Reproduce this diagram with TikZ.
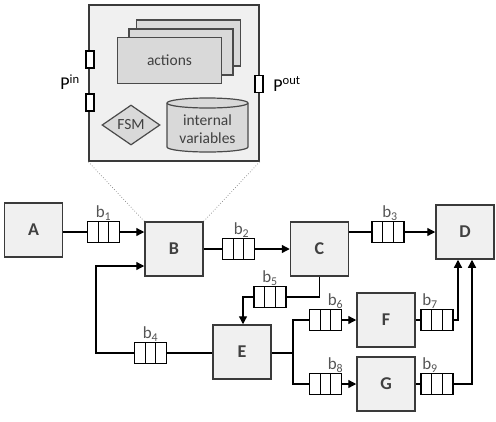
\documentclass[tikz,border=0pt]{standalone}
\usepackage{fontspec}
\setmainfont{Carlito}
\usetikzlibrary{shapes.geometric,calc,arrows.meta}
\definecolor{boxfill}{HTML}{F0F0F0}
\definecolor{innerfill}{HTML}{D9D9D9}
\definecolor{edge}{HTML}{3A3A3A}
\definecolor{inneredge}{HTML}{4A4A4A}
\definecolor{txt}{HTML}{404040}
\definecolor{lbltxt}{HTML}{555555}
\begin{document}
\begin{tikzpicture}[x=1pt,y=-1pt,
  blk/.style={draw=edge, fill=boxfill, line width=1.5pt, minimum width=58pt, minimum height=54pt, inner sep=0pt,
    font=\fontsize{18}{20}\selectfont\bfseries, text=txt},
  queue/.style={draw=black, fill=white, line width=1.3pt, minimum width=32pt, minimum height=21pt, inner sep=0pt,
    path picture={\foreach \i in {1,2}{\draw[line width=1.3pt] ($(path picture bounding box.north west)!\i/3!(path picture bounding box.north east)$) -- ($(path picture bounding box.south west)!\i/3!(path picture bounding box.south east)$);}}},
  lbl/.style={font=\fontsize{17}{19}\selectfont, text=lbltxt, inner sep=0.5pt},
  conn/.style={line width=1.3pt, draw=black},
  arr/.style={conn, -{Triangle[length=8pt,width=8pt]}},
  port/.style={draw=black, fill=white, line width=1.1pt, minimum width=8pt, minimum height=17pt, inner sep=0pt},
  inner/.style={draw=inneredge, fill=innerfill, line width=1.2pt, inner sep=0pt, text=txt, font=\fontsize{15.5}{17}\selectfont},
  zoomline/.style={draw=gray, dotted, line width=0.7pt}
]
\useasboundingbox (0,0) rectangle (496,421);

% detailed view
\node[draw=edge, fill=boxfill, line width=1.5pt, minimum width=170pt, minimum height=156pt, inner sep=0pt] (view) at (174,83) {};
\node[inner, minimum width=104pt, minimum height=46pt] (act3) at (188.5,43) {};
\node[inner, minimum width=104pt, minimum height=46pt] (act2) at (181,52) {};
\node[inner, minimum width=104pt, minimum height=46pt] (act1) at (169.5,60.5) {actions};
\node[inner, diamond, minimum width=58pt, minimum height=40pt, aspect=1.45] (fsm) at (131,125) {FSM};
\filldraw[draw=inneredge, fill=innerfill, line width=1.2pt] (167,103) -- (167,147) arc (180:0:40.5 and 5) -- (248,103) arc (0:-180:40.5 and 5) -- cycle;
\draw[draw=inneredge, line width=1.2pt] (167,103) arc (180:0:40.5 and 5);
\node[text=txt, font=\fontsize{15.5}{18}\selectfont, align=center] (vars) at (207.5,129) {internal\\variables};
\node[port] (pin1) at (90,59.5) {};
\node[port] (pin2) at (90,102.5) {};
\node[port] (pout) at (259,84) {};
\node[font=\fontsize{18}{20}\selectfont, text=black] (pinl) at (70,82) {P\textsuperscript{in}};
\node[font=\fontsize{18}{20}\selectfont, text=black] (poutl) at (287,84) {P\textsuperscript{out}};

% main blocks
\node[blk] (A) at (33.5,230) {A};
\node[blk] (B) at (174,249) {B};
\node[blk] (C) at (319.5,249) {C};
\node[blk] (D) at (465,232) {D};
\node[blk] (E) at (242,352) {E};
\node[blk] (F) at (386,320) {F};
\node[blk] (G) at (386,384) {G};

\draw[zoomline] (view.south west) -- (B.north west);
\draw[zoomline] (view.south east) -- (B.north east);

% queues
\node[queue, label={[lbl]above:b\textsubscript{1}}] (b1) at (103.5,232) {};
\node[queue, label={[lbl,xshift=3pt]above:b\textsubscript{2}}] (b2) at (238.5,249) {};
\node[queue, label={[lbl,xshift=2pt]above:b\textsubscript{3}}] (b3) at (388,232) {};
\node[queue, label={[lbl]above:b\textsubscript{4}}] (b4) at (150.5,353) {};
\node[queue, label={[lbl]above:b\textsubscript{5}}] (b5) at (270,297) {};
\node[queue, label={[lbl,xshift=10pt]above:b\textsubscript{6}}] (b6) at (325.5,320) {};
\node[queue, label={[lbl,xshift=-7pt]above:b\textsubscript{7}}] (b7) at (437,320) {};
\node[queue, label={[lbl,xshift=10pt]above:b\textsubscript{8}}] (b8) at (325.5,384) {};
\node[queue, label={[lbl,xshift=-7pt]above:b\textsubscript{9}}] (b9) at (437,384) {};

\coordinate (loopL) at (96,353);
\coordinate (loopT) at (96,266);
\coordinate (c5) at (243,297);
\coordinate (eb) at (293,353);
\coordinate (f7) at (458,320);
\coordinate (g9) at (472,384);

% connectors
\draw[conn] (A.east |- b1) -- (b1.west);
\draw[arr] (b1.east) -- (B.west |- b1);
\draw[conn] (B.east) -- (b2.west);
\draw[arr] (b2.east) -- (C.west);
\draw[conn] (C.east |- b3) -- (b3.west);
\draw[arr] (b3.east) -- (D.west |- b3);
\draw[conn] (C.south) |- (b5.east);
\draw[arr] (b5.west) -- (c5) -- (c5 |- E.north);
\draw[conn] (E.west |- b4) -- (b4.east);
\draw[arr] (b4.west) -- (loopL) -- (loopT) -- (B.west |- loopT);
\draw[conn] (E.east |- eb) -- (eb) |- (b6.west);
\draw[conn] (eb) |- (b8.west);
\draw[arr] (b6.east) -- (F.west);
\draw[arr] (b8.east) -- (G.west |- b8);
\draw[conn] (F.east) -- (b7.west);
\draw[conn] (G.east |- b9) -- (b9.west);
\draw[arr] (b7.east) -- (f7) -- (f7 |- D.south);
\draw[arr] (b9.east) -- (g9) -- (g9 |- D.south);
\end{tikzpicture}
\end{document}
